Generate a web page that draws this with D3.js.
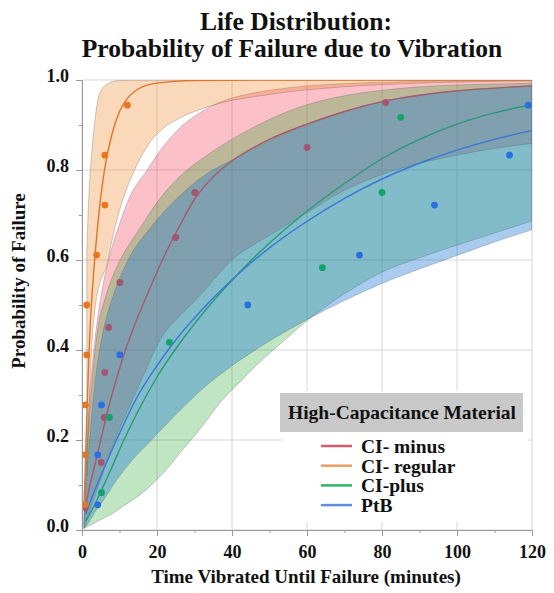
<!DOCTYPE html>
<html>
<head>
<meta charset="utf-8">
<script src="https://cdn.jsdelivr.net/npm/d3@7"></script>
<style>
  body { margin: 0; background: #fff; }
  text { font-family: "Liberation Serif", "Times New Roman", serif; font-weight: bold; fill: #111; }
</style>
</head>
<body>
<script>
// readings: t in minutes, p = probability of failure

// confidence bands: [t, lower, upper]
const minusBand = [
  [0.6, 0.005, 0.05], [1, 0.015, 0.14], [2, 0.04, 0.29], [3, 0.065, 0.39], [4, 0.09, 0.46],
  [5.5, 0.125, 0.54], [7.4, 0.17, 0.61], [10, 0.225, 0.68], [13, 0.28, 0.745], [17, 0.355, 0.795],
  [21, 0.425, 0.845], [26, 0.475, 0.893], [31, 0.517, 0.925], [35, 0.555, 0.944], [40, 0.6, 0.96],
  [45, 0.63, 0.97], [50, 0.655, 0.977], [60, 0.705, 0.987], [70, 0.755, 0.992], [80, 0.79, 0.995],
  [90, 0.815, 0.997], [100, 0.833, 0.998], [110, 0.848, 0.999], [120, 0.859, 0.999]
]
const regularBand = [
  [1.3, 0.12, 0.62], [1.6, 0.2, 0.7], [2, 0.3, 0.77], [2.6, 0.41, 0.84], [3.3, 0.48, 0.9],
  [4.2, 0.53, 0.955], [5.5, 0.565, 0.982], [6.5, 0.585, 0.99], [7.9, 0.64, 0.996], [10, 0.71, 0.999],
  [12, 0.76, 1], [14, 0.8, 1], [18, 0.86, 1], [22, 0.895, 1], [26, 0.915, 1], [35, 0.944, 1],
  [50, 0.968, 1], [70, 0.985, 1], [90, 0.993, 1], [120, 0.998, 1]
]
const plusBand = [
  [0.5, 0.003, 0.03], [1, 0.005, 0.12], [2, 0.01, 0.26], [3, 0.014, 0.36], [4.3, 0.02, 0.452],
  [6, 0.027, 0.51], [8, 0.036, 0.56], [10.5, 0.05, 0.605], [13, 0.064, 0.64], [15.8, 0.08, 0.675],
  [18.5, 0.1, 0.71], [21.6, 0.126, 0.745], [26, 0.17, 0.785], [32, 0.23, 0.825], [37, 0.285, 0.853],
  [42, 0.328, 0.878], [47, 0.37, 0.9], [52, 0.407, 0.92], [60, 0.465, 0.945], [70, 0.525, 0.965],
  [80, 0.573, 0.977], [90, 0.605, 0.985], [100, 0.633, 0.989], [110, 0.66, 0.991], [120, 0.687, 0.993]
]
const ptbBand = [
  [0.5, 0.004, 0.02], [1, 0.008, 0.09], [2, 0.02, 0.2], [3.8, 0.045, 0.35], [5.6, 0.065, 0.44],
  [8.3, 0.1, 0.52], [12.3, 0.145, 0.6], [18.5, 0.2, 0.674], [26, 0.265, 0.742], [33, 0.32, 0.79],
  [40, 0.365, 0.822], [50, 0.42, 0.865], [60, 0.468, 0.9], [70, 0.51, 0.93], [80, 0.548, 0.952],
  [90, 0.58, 0.966], [100, 0.61, 0.976], [110, 0.64, 0.982], [120, 0.667, 0.987]
]

// fitted curves: [t, p]
const minusFit = [
  [0.8, 0.04], [1.5, 0.075], [3, 0.13], [5, 0.2], [7, 0.27], [9, 0.33], [11, 0.385], [14, 0.455],
  [18, 0.535], [22, 0.61], [26, 0.675], [30, 0.735], [35, 0.785], [40, 0.82], [50, 0.868], [60, 0.902],
  [70, 0.93], [80, 0.952], [90, 0.966], [100, 0.976], [110, 0.982], [120, 0.987]
]
const regularFit = [
  [0.5, 0.05], [0.8, 0.12], [1, 0.18], [1.6, 0.33], [2, 0.42], [3, 0.56], [4, 0.66], [5, 0.74],
  [6, 0.8], [8, 0.88], [10, 0.93], [12, 0.958], [15, 0.98], [20, 0.993], [30, 0.999], [50, 1], [120, 1]
]
const plusFit = [
  [1, 0.02], [3, 0.05], [5, 0.085], [8, 0.14], [10.9, 0.195], [15, 0.265], [20, 0.34], [26.5, 0.42],
  [31.5, 0.474], [40, 0.555], [49, 0.63], [58, 0.695], [70, 0.77], [80, 0.825], [90, 0.868],
  [100, 0.902], [110, 0.927], [120, 0.945]
]
const ptbFit = [
  [1, 0.035], [3, 0.08], [5, 0.12], [9.2, 0.2], [15, 0.3], [20, 0.365], [24.3, 0.415], [31.5, 0.485],
  [40, 0.556], [50, 0.627], [58, 0.675], [70, 0.737], [80, 0.78], [90, 0.815], [100, 0.844],
  [110, 0.868], [120, 0.888]
]

// observed failures
const minusT = [0.8, 5.1, 5.9, 6.1, 7.1, 10.1, 25, 30.1, 60, 81]
const minusP = [0.05, 0.15, 0.25, 0.35, 0.45, 0.55, 0.65, 0.75, 0.85, 0.95]
const regularT = [0.8, 0.8, 0.9, 1.25, 1.25, 3.9, 6.1, 6.1, 12.1]
const regularP = [0.056, 0.167, 0.278, 0.389, 0.5, 0.611, 0.722, 0.833, 0.944]
const plusT = [5.2, 7.3, 23.3, 64.1, 80, 85]
const plusP = [0.083, 0.25, 0.417, 0.583, 0.75, 0.917]
const ptbT = [4.2, 4.2, 5.2, 10.1, 44.2, 74, 94, 114, 119]
const ptbP = [0.056, 0.167, 0.278, 0.389, 0.5, 0.611, 0.722, 0.833, 0.944]

const xTicks = [0, 20, 40, 60, 80, 100, 120]
const xMinor = [10, 30, 50, 70, 90, 110]
const yTicks = [0, 0.2, 0.4, 0.6, 0.8, 1.0]
const yMinor = [0.1, 0.3, 0.5, 0.7, 0.9]
const legendNames = ["CI- minus", "CI- regular", "CI-plus", "PtB"]

const series = [
  { band: minusBand, fit: minusFit, t: minusT, p: minusP, fill: "rgb(245,45,75)", alpha: 0.3, line: "#a65a6e", dot: "#a35670", key: "#d95a6c" },
  { band: regularBand, fit: regularFit, t: regularT, p: regularP, fill: "rgb(240,130,30)", alpha: 0.3, line: "#e0742a", dot: "#e8761e", key: "#e8a060" },
  { band: plusBand, fit: plusFit, t: plusT, p: plusP, fill: "rgb(20,160,30)", alpha: 0.27, line: "#2a9a78", dot: "#12a36a", key: "#2db36a" },
  { band: ptbBand, fit: ptbFit, t: ptbT, p: ptbP, fill: "rgb(30,120,210)", alpha: 0.38, line: "#3a78d8", dot: "#2a6fe2", key: "#5f8fdc" }
]

const W = 554, H = 593
const margin = { top: 80, right: 22, bottom: 63, left: 82 },
    width = W - margin.left - margin.right,
    height = H - margin.top - margin.bottom

const svg = d3.select("body").append("svg")
    .attr("width", W)
    .attr("height", H)

const x = d3.scaleLinear().domain([0, 120]).range([margin.left, margin.left + width])
const y = d3.scaleLinear().domain([0, 1]).range([margin.top + height, margin.top])

svg.append("defs").append("clipPath").attr("id", "plot")
    .append("rect")
    .attr("x", x(0)).attr("y", y(1))
    .attr("width", x(120) - x(0)).attr("height", y(0) - y(1))

// grid
const grid = svg.append("g")
grid.selectAll("line.v").data(xTicks).join("line")
    .attr("x1", d => x(d)).attr("x2", d => x(d))
    .attr("y1", y(0)).attr("y2", y(1))
    .style("stroke", "#d6d6d6")
grid.selectAll("line.h").data(yTicks).join("line")
    .attr("x1", x(0)).attr("x2", x(120))
    .attr("y1", d => y(d)).attr("y2", d => y(d))
    .style("stroke", "#d6d6d6")

const area = d3.area()
    .x(d => x(d[0]))
    .y0(d => y(d[1]))
    .y1(d => y(d[2]))
    .curve(d3.curveMonotoneX)

const line = d3.line()
    .x(d => x(d[0]))
    .y(d => y(d[1]))
    .curve(d3.curveMonotoneX)

const plot = svg.append("g").attr("clip-path", "url(#plot)")

for (let s of series) {
    plot.append("path")
        .datum(s.band)
        .attr("d", area)
        .style("fill", s.fill)
        .style("fill-opacity", s.alpha)
        .style("stroke", "rgba(95,95,95,0.45)")
        .style("stroke-width", "0.7px")
}

for (let s of series) {
    plot.append("path")
        .datum(s.fit)
        .attr("d", line)
        .style("fill", "none")
        .style("stroke", s.line)
        .style("stroke-width", "1.4px")
}

for (let s of series) {
    plot.append("g").selectAll("circle")
        .data(s.t.map((t, i) => [t, s.p[i]]))
        .join("circle")
        .attr("cx", d => x(d[0]))
        .attr("cy", d => y(d[1]))
        .attr("r", 3.4)
        .style("fill", s.dot)
}

// axes
const xAxis = svg.append("g")
    .attr("transform", "translate(0," + y(0) + ")")
    .call(d3.axisBottom(x).tickValues(xTicks).tickSize(6).tickPadding(9).tickFormat(d3.format("d")))
svg.append("g")
    .attr("transform", "translate(0," + y(0) + ")")
    .call(d3.axisBottom(x).tickValues(xMinor).tickSize(3).tickFormat(""))
    .call(g => g.select(".domain").remove())

const yAxis = svg.append("g")
    .attr("transform", "translate(" + x(0) + ",0)")
    .call(d3.axisLeft(y).tickValues(yTicks).tickSize(6).tickPadding(7).tickFormat(d3.format(".1f")))
svg.append("g")
    .attr("transform", "translate(" + x(0) + ",0)")
    .call(d3.axisLeft(y).tickValues(yMinor).tickSize(3).tickFormat(""))
    .call(g => g.select(".domain").remove())

svg.selectAll(".domain, .tick line").style("stroke", "#9a9a9a")
xAxis.selectAll("text").style("font-size", "18px").attr("fill", "#111")
yAxis.selectAll("text").style("font-size", "18px").attr("fill", "#111").attr("dy", "0.1em")

// titles
svg.append("text")
    .attr("x", 296).attr("y", 30)
    .attr("text-anchor", "middle")
    .style("font-size", "25.5px")
    .text("Life Distribution:")
svg.append("text")
    .attr("x", 292).attr("y", 57)
    .attr("text-anchor", "middle")
    .style("font-size", "25.5px")
    .text("Probability of Failure due to Vibration")

svg.append("text")
    .attr("x", 306).attr("y", 583)
    .attr("text-anchor", "middle")
    .style("font-size", "19px")
    .text("Time Vibrated Until Failure (minutes)")

svg.append("text")
    .attr("transform", "translate(25,281) rotate(-90)")
    .attr("text-anchor", "middle")
    .style("font-size", "19px")
    .text("Probability of Failure")

// legend
const legend = svg.append("g")
legend.append("rect")
    .attr("x", 282).attr("y", 391).attr("width", 246).attr("height", 131)
    .style("fill", "#fff")
legend.append("rect")
    .attr("x", 280).attr("y", 393).attr("width", 243).attr("height", 39)
    .style("fill", "#c9c9c9")
legend.append("text")
    .attr("x", 402).attr("y", 419)
    .attr("text-anchor", "middle")
    .style("font-size", "19.5px")
    .text("High-Capacitance Material")

legendNames.forEach((name, i) => {
    const ly = 446 + i * 19.7
    legend.append("line")
        .attr("x1", 321).attr("x2", 352)
        .attr("y1", ly).attr("y2", ly)
        .style("stroke", series[i].key)
        .style("stroke-width", "2.5px")
    legend.append("text")
        .attr("x", 361).attr("y", ly + 7)
        .style("font-size", "19.5px")
        .text(name)
})
</script>
</body>
</html>
